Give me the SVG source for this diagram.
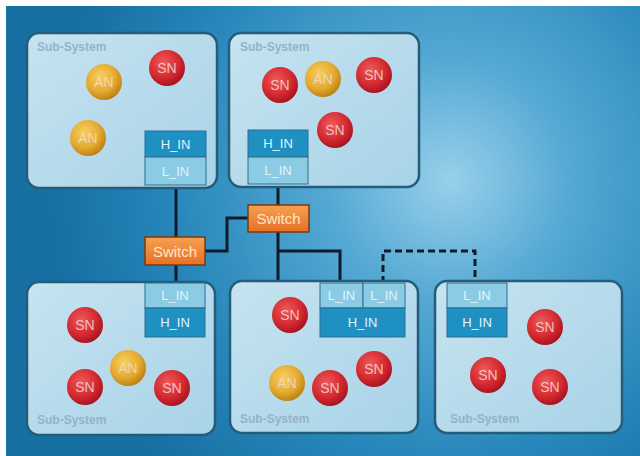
<svg xmlns="http://www.w3.org/2000/svg" width="640" height="456" viewBox="0 0 640 456">
<defs>
<radialGradient id="bg" cx="450" cy="180" r="400" gradientUnits="userSpaceOnUse">
<stop offset="0" stop-color="#98d0ea"/>
<stop offset="0.3" stop-color="#55a9d4"/>
<stop offset="0.7" stop-color="#2786ba"/>
<stop offset="1" stop-color="#176fa2"/>
</radialGradient>
<linearGradient id="boxg" x1="0" y1="0" x2="1" y2="1">
<stop offset="0" stop-color="#c6e3f0"/>
<stop offset="1" stop-color="#a8d3e7"/>
</linearGradient>
<radialGradient id="red" cx="0.4" cy="0.35" r="0.7">
<stop offset="0" stop-color="#ee5a5a"/>
<stop offset="0.6" stop-color="#d42a30"/>
<stop offset="1" stop-color="#a01020"/>
</radialGradient>
<radialGradient id="gold" cx="0.4" cy="0.35" r="0.7">
<stop offset="0" stop-color="#f6d060"/>
<stop offset="0.6" stop-color="#e4aa30"/>
<stop offset="1" stop-color="#b87a10"/>
</radialGradient>
<linearGradient id="sw" x1="0" y1="0" x2="0" y2="1">
<stop offset="0" stop-color="#f7a050"/>
<stop offset="1" stop-color="#e67025"/>
</linearGradient>
</defs>
<style>
.sub{fill:url(#boxg);stroke:#245c7a;stroke-width:2.5}
.lab{font-family:"Liberation Sans",Arial,sans-serif;font-size:12px;font-weight:bold;fill:#95b3c6}
.sn{fill:url(#red)}
.an{fill:url(#gold)}
.nt{font-family:"Liberation Sans",Arial,sans-serif;font-size:14px;fill:#f4d8d0;text-anchor:middle;dominant-baseline:central;opacity:0.85}
.h{fill:#1f90c2;stroke:#2a6e90;stroke-width:1}
.l{fill:#8ccbe4;stroke:#2a6e90;stroke-width:1}
.it{font-family:"Liberation Sans",Arial,sans-serif;font-size:13px;fill:#e2f4fb;text-anchor:middle;dominant-baseline:central}
.swb{fill:url(#sw);stroke:#7a3a12;stroke-width:1.5}
.swt{font-family:"Liberation Sans",Arial,sans-serif;font-size:15px;fill:#ffe6cc;text-anchor:middle;dominant-baseline:central}
.ln{fill:none;stroke:#0d1c28;stroke-width:3}
.dl{fill:none;stroke:#0d1c28;stroke-width:3;stroke-dasharray:7 4}
</style>
<rect x="0" y="0" width="640" height="456" fill="#ffffff"/>
<rect x="6" y="6" width="634" height="450" fill="url(#bg)"/>

<g id="connectors">
<path class="ln" d="M176 186 V237"/>
<path class="ln" d="M176 265 V283"/>
<path class="ln" d="M205 251 H227 V218 H248"/>
<path class="ln" d="M278 183 V205"/>
<path class="ln" d="M278 232 V283"/>
<path class="ln" d="M278 251 H340 V283"/>
<path class="dl" d="M383 283 V251 H475 V283"/>
</g>

<g id="subsystem-top-left">
<rect class="sub" x="27" y="33" width="190" height="155" rx="12"/>
<text class="lab" x="37" y="51">Sub-System</text>
<g id="tl-sn1"><circle class="sn" cx="167" cy="68" r="18"/><text class="nt" x="167" y="68">SN</text></g>
<g id="tl-an1"><circle class="an" cx="104" cy="82" r="18"/><text class="nt" x="104" y="82">AN</text></g>
<g id="tl-an2"><circle class="an" cx="88" cy="138" r="18"/><text class="nt" x="88" y="138">AN</text></g>
<g id="tl-hin"><rect class="h" x="145" y="131" width="61" height="26"/><text class="it" x="175.5" y="144">H_IN</text></g>
<g id="tl-lin"><rect class="l" x="145" y="157" width="61" height="28"/><text class="it" x="175.5" y="171">L_IN</text></g>
</g>

<g id="subsystem-top-middle">
<rect class="sub" x="229" y="33" width="190" height="154" rx="12"/>
<text class="lab" x="240" y="51">Sub-System</text>
<g id="tm-sn1"><circle class="sn" cx="280" cy="85" r="18"/><text class="nt" x="280" y="85">SN</text></g>
<g id="tm-an1"><circle class="an" cx="323" cy="79" r="18"/><text class="nt" x="323" y="79">AN</text></g>
<g id="tm-sn2"><circle class="sn" cx="374" cy="75" r="18"/><text class="nt" x="374" y="75">SN</text></g>
<g id="tm-sn3"><circle class="sn" cx="335" cy="130" r="18"/><text class="nt" x="335" y="130">SN</text></g>
<g id="tm-hin"><rect class="h" x="248" y="130" width="60" height="27"/><text class="it" x="278" y="143.5">H_IN</text></g>
<g id="tm-lin"><rect class="l" x="248" y="157" width="60" height="27"/><text class="it" x="278" y="170.5">L_IN</text></g>
</g>

<g id="switch-left">
<rect class="swb" x="145" y="237" width="60" height="28"/>
<text class="swt" x="175" y="251">Switch</text>
</g>
<g id="switch-right">
<rect class="swb" x="248" y="205" width="61" height="27"/>
<text class="swt" x="278.5" y="218.5">Switch</text>
</g>

<g id="subsystem-bottom-left">
<rect class="sub" x="27" y="282" width="188" height="153" rx="12"/>
<text class="lab" x="37" y="424">Sub-System</text>
<g id="bl-lin"><rect class="l" x="145" y="283" width="60" height="25"/><text class="it" x="175" y="295.5">L_IN</text></g>
<g id="bl-hin"><rect class="h" x="145" y="308" width="60" height="29"/><text class="it" x="175" y="322.5">H_IN</text></g>
<g id="bl-sn1"><circle class="sn" cx="85" cy="325" r="18"/><text class="nt" x="85" y="325">SN</text></g>
<g id="bl-an1"><circle class="an" cx="128" cy="368" r="18"/><text class="nt" x="128" y="368">AN</text></g>
<g id="bl-sn2"><circle class="sn" cx="85" cy="387" r="18"/><text class="nt" x="85" y="387">SN</text></g>
<g id="bl-sn3"><circle class="sn" cx="172" cy="388" r="18"/><text class="nt" x="172" y="388">SN</text></g>
</g>

<g id="subsystem-bottom-middle">
<rect class="sub" x="230" y="281" width="188" height="152" rx="12"/>
<text class="lab" x="240" y="423">Sub-System</text>
<g id="bm-lin1"><rect class="l" x="320" y="283" width="43" height="25"/><text class="it" x="341.5" y="295.5">L_IN</text></g>
<g id="bm-lin2"><rect class="l" x="363" y="283" width="42" height="25"/><text class="it" x="384" y="295.5">L_IN</text></g>
<g id="bm-hin"><rect class="h" x="320" y="308" width="85" height="29"/><text class="it" x="362.5" y="322.5">H_IN</text></g>
<g id="bm-sn1"><circle class="sn" cx="290" cy="315" r="18"/><text class="nt" x="290" y="315">SN</text></g>
<g id="bm-an1"><circle class="an" cx="287" cy="383" r="18"/><text class="nt" x="287" y="383">AN</text></g>
<g id="bm-sn2"><circle class="sn" cx="330" cy="388" r="18"/><text class="nt" x="330" y="388">SN</text></g>
<g id="bm-sn3"><circle class="sn" cx="374" cy="369" r="18"/><text class="nt" x="374" y="369">SN</text></g>
</g>

<g id="subsystem-bottom-right">
<rect class="sub" x="435" y="281" width="187" height="152" rx="12"/>
<text class="lab" x="450" y="423">Sub-System</text>
<g id="br-lin"><rect class="l" x="447" y="283" width="60" height="25"/><text class="it" x="477" y="295.5">L_IN</text></g>
<g id="br-hin"><rect class="h" x="447" y="308" width="60" height="29"/><text class="it" x="477" y="322.5">H_IN</text></g>
<g id="br-sn1"><circle class="sn" cx="545" cy="327" r="18"/><text class="nt" x="545" y="327">SN</text></g>
<g id="br-sn2"><circle class="sn" cx="488" cy="375" r="18"/><text class="nt" x="488" y="375">SN</text></g>
<g id="br-sn3"><circle class="sn" cx="550" cy="387" r="18"/><text class="nt" x="550" y="387">SN</text></g>
</g>
</svg>
